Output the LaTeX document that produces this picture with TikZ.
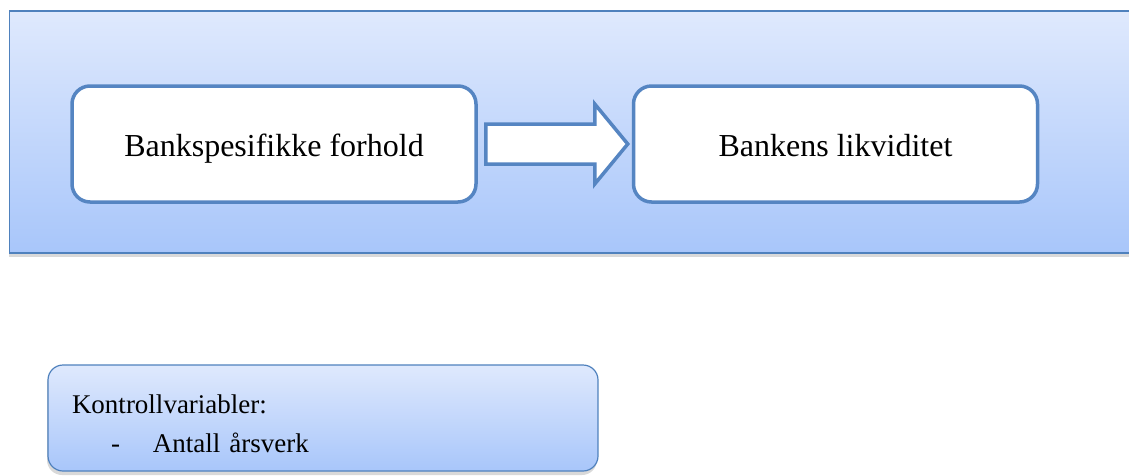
\documentclass[tikz,border=0pt]{standalone}
\usepackage{fontspec}
\setmainfont{Liberation Serif}
\usetikzlibrary{positioning, shadows, calc}

\definecolor{frameblue}{HTML}{4F81BD}
\definecolor{boxblue}{HTML}{5585C2}
\definecolor{lighttop}{HTML}{DFE9FD}
\definecolor{lightbottom}{HTML}{A8C6FA}

\tikzset{
	panel/.style = {rectangle, draw = frameblue, line width = 1.2pt,
		top color = lighttop, bottom color = lightbottom,
		drop shadow = {shadow xshift = -1pt, shadow yshift = -4pt, opacity = 0.3}},
	factor/.style = {rectangle, rounded corners = 18pt, draw = boxblue, line width = 3.5pt,
		fill = white, minimum width = 404pt, minimum height = 116pt,
		text height = 24pt, text depth = 0pt, font = \fontsize{32}{38}\selectfont},
	blockarrow/.style = {draw = boxblue, line width = 3.5pt, fill = white, line join = miter},
	note/.style = {panel, rounded corners = 15pt, text width = 502pt, inner xsep = 24pt,
		minimum height = 106pt, align = left, font = \fontsize{27}{39}\selectfont}
}

\begin{document}
\begin{tikzpicture}[x = 1pt, y = -1pt]
		\useasboundingbox (0,0) rectangle (1129,475);

		\node [panel, minimum width = 1125pt, minimum height = 242pt] (frame) at (572,132) {};
		\node [factor] (bank) at (274,144) {Bankspesifikke forhold};
		\node [factor, right = 154pt of bank] (liq) {Bankens likviditet};

		% arrow between the two boxes
		\draw [blockarrow] ($(bank.east)+(8,-20)$) -- ++(109,0) -- ++(0,-20)
			-- ([xshift = -4pt]liq.west) -- ($(bank.east)+(117,40)$) -- ++(0,-20)
			-- ($(bank.east)+(8,20)$) -- cycle;

		\node [note] (controls) at (323,418)
			{\rule{0pt}{30pt}Kontrollvariabler:\\ \hspace*{39pt}-\hspace{33pt}Antall årsverk};

	\end{tikzpicture}
\end{document}
